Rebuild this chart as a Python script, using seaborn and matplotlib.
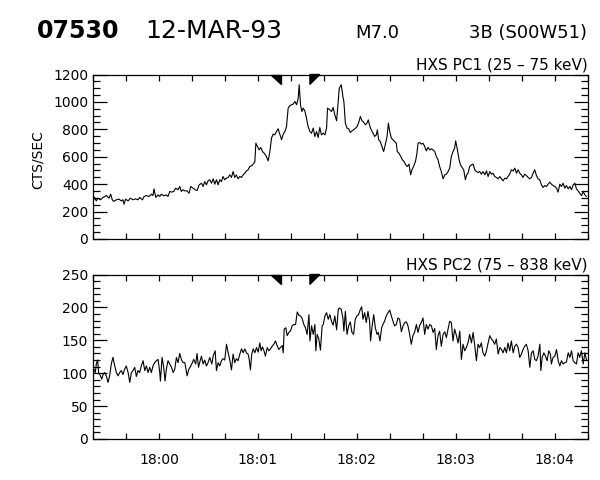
import numpy as np
import pandas as pd
import matplotlib
matplotlib.use("Agg")
import matplotlib.pyplot as plt
import matplotlib.dates as mdates
import matplotlib.transforms as mtransforms
from matplotlib.ticker import MultipleLocator
import seaborn as sns

# ---------------- data (seconds after 17:59:20, counts/s) ----------------
start = pd.Timestamp("1993-03-12 17:59:20")
end_s = 300

pc1_t = [0.0, 0.8, 2.0, 3.0, 4.5, 6.1, 8.1, 9.7, 10.7, 11.7, 12.5, 14.2, 15.8, 17.2, 18.2, 18.8, 19.8,
         21.3, 22.7, 24.3, 25.9, 27.3, 28.3, 30.0, 31.0, 32.4, 34.0, 35.4, 36.4, 37.0, 38.1, 39.5,
         40.5, 41.5, 42.9, 44.5, 45.5, 46.6, 47.6, 49.0, 50.2, 51.6, 52.6, 53.6, 54.6, 55.7, 57.1,
         58.3, 59.3, 60.7, 61.9, 63.2, 64.4, 65.8, 66.8, 67.8, 68.8, 69.8, 70.8, 71.9, 72.9, 73.9,
         74.9, 75.9, 76.9, 77.9, 78.9, 79.9, 81.0, 82.0, 83.0, 84.0, 85.0, 86.0, 87.0, 88.0, 89.1,
         90.1, 91.1, 92.1, 93.1, 94.1, 95.1, 96.5, 97.6, 98.2, 98.8, 99.8, 100.8, 101.8, 102.8,
         103.8, 105.2, 106.3, 107.3, 108.3, 109.3, 110.3, 111.3, 112.3, 113.3, 114.4, 115.4, 116.4,
         117.4, 118.4, 119.4, 120.4, 121.4, 122.5, 123.5, 124.5, 125.1, 125.9, 126.7, 127.5, 128.5,
         129.5, 130.5, 131.6, 132.6, 133.6, 134.6, 135.6, 136.6, 137.6, 138.6, 139.7, 140.7, 141.7,
         142.3, 143.7, 144.7, 145.7, 146.7, 147.8, 149.4,
         150.6, 151.6, 152.2, 153.1, 154.1, 155.1, 156.1, 157.1, 158.1, 159.3, 160.3, 161.4, 162.2,
         163.2, 164.2, 165.2, 166.2, 167.0, 168.0, 168.8, 169.9, 170.9, 171.9, 172.5, 173.3, 174.3,
         175.3, 176.3, 177.3, 178.4, 179.2, 180.0, 181.0, 182.0, 183.0, 184.0, 184.6, 185.6, 186.7,
         187.7, 188.7, 189.7, 190.7, 191.7, 192.7, 193.5, 194.5, 195.6, 196.4, 197.2, 198.2, 199.2,
         200.2, 201.2, 202.2, 203.2, 204.3, 205.3, 206.3, 207.3, 208.3, 209.3, 210.3, 211.3, 212.4,
         213.4, 214.4, 215.4, 216.4, 217.4, 218.4, 219.4, 220.0, 220.9, 221.9, 222.9, 223.9, 224.9,
         225.9, 226.7, 227.5, 228.5, 229.6, 230.6, 231.6, 232.6, 233.6, 234.6, 235.6, 236.6, 237.7,
         238.7, 239.7, 240.7, 241.7, 242.7, 243.7, 244.7, 245.8, 246.8, 247.8, 248.8, 249.8, 250.8,
         251.8, 252.8, 253.8, 254.9, 255.9, 256.9, 257.9, 258.9, 259.9, 260.9, 261.9, 262.9, 264.0,
         265.0, 266.0, 267.0, 268.0, 269.0, 270.0, 271.0, 272.1, 273.1, 274.1, 275.1, 276.1, 277.1,
         278.1, 279.1, 280.2, 281.2, 282.2, 283.2, 284.2, 285.2, 286.2, 287.2, 288.3, 289.3, 290.3,
         291.3, 292.3, 293.3, 294.3, 295.3, 296.4, 297.4, 298.4, 299.4]
pc1_v = [274, 305, 278, 298, 286, 303, 317, 298, 327, 286, 274, 286, 291, 278, 286, 254, 291,
         278, 298, 286, 293, 286, 303, 286, 310, 317, 310, 327, 317, 366, 303, 322,
         310, 327, 315, 322, 310, 347, 342, 347, 371, 359, 383, 347, 359, 351, 351,
         334, 383, 371, 359, 354, 395, 407, 383, 419, 395, 424, 432, 407, 439, 400,
         432, 395, 432, 419, 456, 432, 444, 449, 468, 449, 492, 449, 468, 439, 456,
         449, 468, 480, 497, 505, 529, 536, 553, 565, 699, 675, 650, 668, 638,
         626, 602, 570, 638, 736, 765, 760, 784, 804, 765, 724, 765, 784,
         821, 955, 972, 979, 984, 1003, 979, 1028, 1125, 979, 930, 955, 935,
         882, 821, 784, 772, 809, 748, 784, 741, 813, 760, 772, 760, 809,
         955, 942, 930, 959, 906, 862, 1100,
         1125, 1040, 1003, 845, 809, 804, 777, 789, 796, 809, 821, 857, 894,
         862, 852, 833, 845, 869, 821, 796, 772, 748, 760, 796, 724, 711,
         675, 638, 687, 748, 845, 784, 736, 724, 711, 699, 638, 626, 602,
         578, 565, 541, 529, 546, 468, 505, 529, 565, 614, 699, 704, 692,
         699, 675, 643, 668, 650, 658, 650, 638, 602, 578, 529, 492, 439,
         468, 473, 492, 517, 602, 638, 663, 716, 663, 590, 541, 522, 505,
         432, 468, 480, 529, 541, 546, 505, 492, 485, 492, 473, 492, 468,
         497, 456, 492, 473, 480, 456, 449, 439, 456, 439, 424, 444, 439,
         456, 473, 505, 497, 517, 480, 505, 480, 468, 449, 473, 463, 449,
         439, 449, 480, 505, 463, 439, 432, 395, 376, 390, 383, 400, 415,
         400, 390, 383, 371, 342, 400, 383, 407, 371, 390, 366, 383, 359,
         395, 407, 366, 351, 334, 317, 347, 322, 310]

pc2_t = [0.0, 0.6, 1.4, 2.0, 2.8, 3.4, 4.5, 5.3, 6.1, 7.1, 8.1, 9.1, 10.1, 11.1, 12.1, 13.2, 14.2,
         15.2, 16.2, 17.2, 18.2, 19.2, 20.2, 21.3, 22.3, 23.3, 24.3, 25.3, 26.3, 27.3, 28.3, 29.3,
         30.4, 31.4, 32.4, 33.4, 34.4, 35.4, 36.4, 37.4, 38.5, 39.5, 40.5, 40.9, 41.9, 42.9, 43.7,
         44.5, 45.5, 46.6, 47.6, 48.6, 49.6, 50.6, 51.6, 52.6, 53.6, 54.6, 55.7, 57.1, 58.1, 59.1,
         60.3, 61.1, 62.3, 63.1, 64.0, 64.8, 65.8, 66.8, 67.8, 68.8, 69.8, 70.8, 72.1, 72.9, 74.1,
         74.9, 75.9, 76.9, 77.9, 78.9, 79.9, 81.0, 82.0, 83.0, 84.0, 85.0, 86.0, 87.0, 88.0, 89.1,
         90.1, 91.1, 92.1, 93.1, 94.1, 94.7, 95.5, 96.3, 97.2, 98.2, 99.2, 100.2, 101.2, 102.0,
         102.8, 103.6, 104.6, 105.7, 106.7, 107.7, 108.7, 109.7, 110.7, 111.7, 112.7, 113.7, 114.8,
         115.4, 116.0, 117.0, 117.8, 118.8, 119.8, 120.8, 121.8, 122.9, 123.9, 124.9, 125.9, 126.9,
         127.9, 128.9, 129.9, 131.0, 131.6, 132.6, 133.6, 134.6, 135.2, 136.0, 137.0, 138.0, 139.0,
         139.7, 140.7, 141.7, 142.7, 143.7, 144.7, 145.7, 146.7, 147.8, 148.8, 149.4,
         150.6, 151.6, 152.2, 153.1, 154.1, 155.1, 156.1, 157.1, 158.1, 159.1, 160.1, 161.1, 162.2,
         163.0, 163.8, 164.8, 165.8, 166.8, 167.8, 168.4, 169.2, 170.3, 171.3, 172.3, 173.1, 174.1,
         175.1, 175.9, 176.9, 177.9, 179.0, 180.0, 181.0, 182.0, 183.0, 184.0, 185.0, 186.0, 187.1,
         188.1, 189.1, 190.1, 191.1, 192.1, 193.1, 194.1, 195.2, 196.2, 197.2, 198.2, 199.2, 200.2,
         201.2, 202.2, 203.2, 204.3, 205.3, 206.3, 207.3, 208.3, 209.3, 210.3, 211.3, 212.4, 213.4,
         214.4, 215.4, 216.4, 217.4, 218.4, 219.4, 220.5, 221.5, 222.5, 223.5, 224.5, 225.5, 226.5,
         227.5, 228.5, 229.6, 230.6, 231.6, 232.6, 233.6, 234.6, 235.6, 236.6, 237.7, 238.7, 239.7,
         240.7, 241.7, 242.7, 243.7, 244.7, 245.8, 246.8, 247.8, 248.8, 249.8, 250.8, 251.8, 252.8,
         253.8, 254.9, 255.9, 256.9, 257.9, 258.9, 259.9, 260.9, 261.9, 262.9, 264.0, 265.0, 266.0,
         267.0, 268.0, 269.0, 270.0, 271.1, 271.7, 272.5, 273.5, 274.5, 275.5, 276.5, 277.5, 278.1,
         279.1, 280.2, 281.2, 282.2, 283.2, 284.2, 285.2, 286.2, 287.2, 288.3, 289.3, 290.3, 291.3,
         292.3, 293.3, 294.3, 295.3, 296.3, 297.4, 298.4, 299.4]
pc2_v = [101, 106, 101, 114, 120, 101, 96, 91, 98, 101, 96, 86, 96, 114, 124, 111, 101,
         96, 101, 104, 98, 106, 111, 101, 86, 101, 104, 109, 95, 104, 101, 111,
         119, 104, 111, 101, 109, 101, 111, 116, 119, 121, 101, 88, 124, 109, 88,
         106, 119, 114, 109, 101, 106, 124, 116, 130, 121, 116, 116, 96, 106, 110,
         116, 121, 114, 130, 109, 117, 126, 114, 120, 111, 116, 124, 114, 126, 134,
         104, 116, 111, 119, 122, 120, 144, 131, 120, 105, 129, 116, 122, 119, 129,
         137, 131, 137, 131, 129, 122, 105, 129, 137, 131, 139, 132, 146, 134,
         140, 135, 126, 139, 134, 137, 141, 144, 149, 142, 136, 139, 142,
         131, 167, 169, 157, 162, 164, 172, 174, 174, 193, 188, 187, 183,
         174, 169, 159, 189, 149, 172, 159, 174, 134, 159, 152, 135, 172,
         174, 187, 192, 182, 189, 179, 173, 187, 166, 197, 199,
         197, 184, 164, 194, 159, 172, 178, 162, 159, 182, 187, 189, 197,
         201, 182, 192, 177, 194, 179, 149, 169, 189, 169, 159, 162, 149,
         169, 174, 179, 187, 192, 196, 187, 179, 172, 174, 184, 182, 163,
         172, 177, 178, 172, 159, 144, 157, 163, 174, 162, 173, 177, 184,
         159, 174, 167, 174, 172, 162, 168, 136, 157, 164, 141, 159, 163,
         154, 167, 179, 177, 149, 167, 157, 146, 164, 121, 144, 134, 139,
         146, 159, 146, 162, 142, 119, 144, 139, 146, 131, 126, 134, 146,
         157, 152, 149, 144, 152, 129, 139, 136, 131, 139, 131, 146, 134,
         149, 131, 141, 144, 139, 124, 129, 136, 141, 144, 134, 109, 131,
         134, 121, 119, 126, 144, 104, 124, 131, 126, 119, 134, 129, 114,
         124, 126, 136, 119, 111, 119, 114, 116, 117, 131, 124, 134, 119,
         116, 114, 131, 124, 134, 114, 131, 120]

marker_s = [113.8, 131.6]        # interval markers (s after 17:59:20)

y1_ticks = [0, 200, 400, 600, 800, 1000, 1200]
y2_ticks = [0, 50, 100, 150, 200, 250]

header_left = ["07530", "12-MAR-93"]
header_right = ["M7.0", "3B (S00W51)"]
titles = ["HXS PC1 (25 \u2013 75 keV)", "HXS PC2 (75 \u2013 838 keV)"]
ylabel = "CTS/SEC"

# ---------------- plotting ----------------
sns.set_style("ticks")
plt.rcParams["font.family"] = ["DejaVu Sans"]
plt.rcParams["text.color"] = "black"
plt.rcParams["axes.labelcolor"] = "black"
plt.rcParams["xtick.color"] = "black"
plt.rcParams["ytick.color"] = "black"

fig = plt.figure(figsize=(6, 4.8), dpi=100)
fig.patch.set_facecolor("white")

ax1 = fig.add_axes([93 / 600, (480 - 239) / 480, (587.5 - 93) / 600, (239 - 74.5) / 480])
ax2 = fig.add_axes([93 / 600, (480 - 439) / 480, (587.5 - 93) / 600, (439 - 274.5) / 480])

df1 = pd.DataFrame({"time": start + pd.to_timedelta(pc1_t, unit="s"), "cts": pc1_v})
df2 = pd.DataFrame({"time": start + pd.to_timedelta(pc2_t, unit="s"), "cts": pc2_v})

sns.lineplot(data=df1, x="time", y="cts", ax=ax1, color="black", linewidth=0.8)
sns.lineplot(data=df2, x="time", y="cts", ax=ax2, color="black", linewidth=0.8)

xmin = start
xmax = start + pd.Timedelta(seconds=end_s)
for ax, yt, ymax, minor in [(ax1, y1_ticks, 1200, 50), (ax2, y2_ticks, 250, 10)]:
    ax.set_xlim(xmin, xmax)
    ax.set_ylim(0, ymax)
    ax.set_yticks(yt)
    ax.yaxis.set_minor_locator(MultipleLocator(minor))
    ax.xaxis.set_major_locator(mdates.MinuteLocator())
    ax.xaxis.set_minor_locator(mdates.SecondLocator(bysecond=[20, 40]))
    ax.xaxis.set_major_formatter(mdates.DateFormatter("%H:%M"))
    ax.tick_params(axis="both", which="both", direction="in", top=True, right=True,
                   colors="black", labelcolor="black", labelsize=10, width=0.9)
    ax.tick_params(axis="y", which="major", length=10)
    ax.tick_params(axis="y", which="minor", length=5)
    ax.tick_params(axis="x", which="both", length=4)
    ax.tick_params(axis="x", which="major", pad=10)
    ax.set_xlabel("")
    ax.set_ylabel("")
    for s in ax.spines.values():
        s.set_linewidth(0.9)
        s.set_color("black")
    # interval markers
    trans = mtransforms.blended_transform_factory(ax.transData, ax.transAxes)
    t_a = mdates.date2num(start + pd.Timedelta(seconds=marker_s[0]))
    t_b = mdates.date2num(start + pd.Timedelta(seconds=marker_s[1]))
    w = mdates.date2num(start + pd.Timedelta(seconds=6)) - mdates.date2num(start)
    ax.fill([t_a - w, t_a, t_a], [1, 1, 0.94], color="black", transform=trans, clip_on=False)
    ax.fill([t_b, t_b + w, t_b], [1, 1, 0.94], color="black", transform=trans, clip_on=False)

ax1.tick_params(axis="x", which="both", labelbottom=False)

ax1.text(1.0, 1.012, titles[0], transform=ax1.transAxes, ha="right", va="bottom", fontsize=11,
         color="black")
ax2.text(1.0, 1.012, titles[1], transform=ax2.transAxes, ha="right", va="bottom", fontsize=11,
         color="black")

fig.text(38 / 600, 1 - 160 / 480, ylabel, rotation=90, ha="center", va="center", fontsize=10,
         color="black")

fig.text(37 / 600, 1 - 38 / 480, header_left[0], ha="left", va="baseline", fontsize=17,
         fontweight="bold", color="black")
fig.text(145 / 600, 1 - 38 / 480, header_left[1], ha="left", va="baseline", fontsize=18,
         color="black")
fig.text(355 / 600, 1 - 38 / 480, header_right[0], ha="left", va="baseline", fontsize=13,
         color="black")
fig.text(587 / 600, 1 - 38 / 480, header_right[1], ha="right", va="baseline", fontsize=13,
         color="black")

fig.savefig("out.png", dpi=100, facecolor="white")
